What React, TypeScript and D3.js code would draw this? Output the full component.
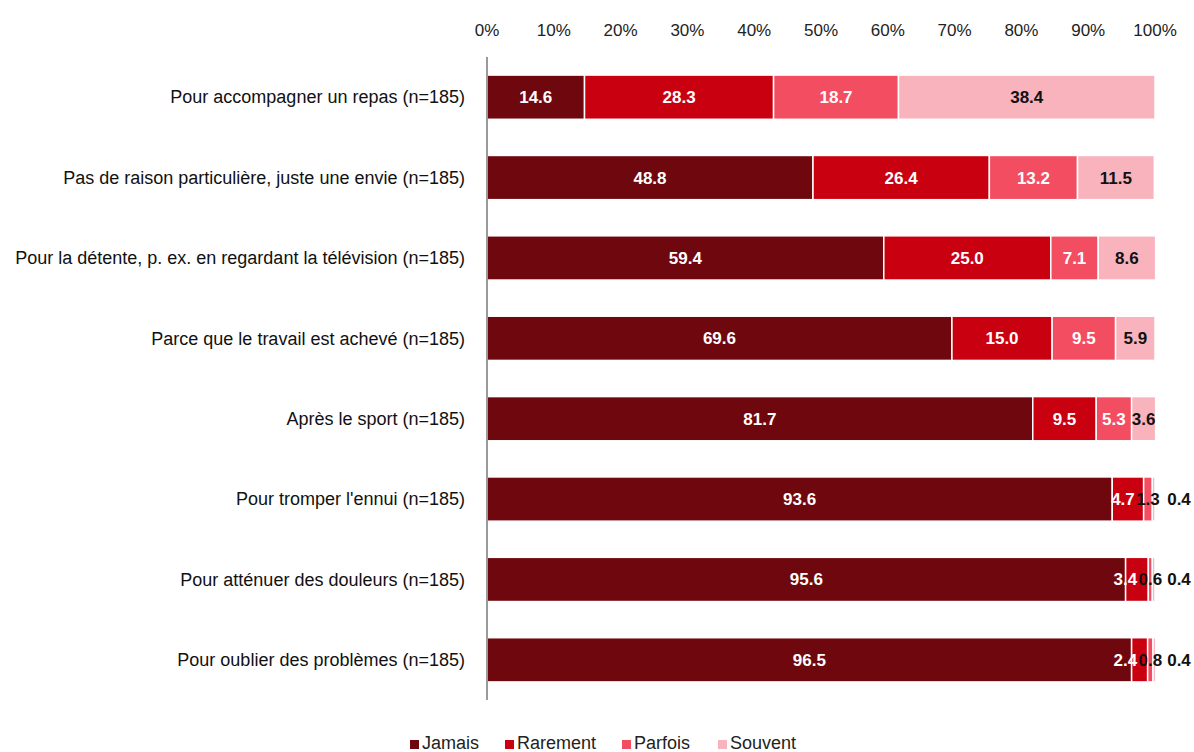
import React from "react";
import * as d3 from "d3";

const categories = [
  "Pour accompagner un repas (n=185)",
  "Pas de raison particulière, juste une envie (n=185)",
  "Pour la détente, p. ex. en regardant la télévision (n=185)",
  "Parce que le travail est achevé (n=185)",
  "Après le sport (n=185)",
  "Pour tromper l'ennui (n=185)",
  "Pour atténuer des douleurs (n=185)",
  "Pour oublier des problèmes (n=185)",
];
const seriesNames = ["Jamais", "Rarement", "Parfois", "Souvent"];
const jamais = [14.6, 48.8, 59.4, 69.6, 81.7, 93.6, 95.6, 96.5];
const rarement = [28.3, 26.4, 25.0, 15.0, 9.5, 4.7, 3.4, 2.4];
const parfois = [18.7, 13.2, 7.1, 9.5, 5.3, 1.3, 0.6, 0.8];
const souvent = [38.4, 11.5, 8.6, 5.9, 3.6, 0.4, 0.4, 0.4];
const tickValues = [0, 10, 20, 30, 40, 50, 60, 70, 80, 90, 100];
const colors = ["#6f080e", "#c9000f", "#f24d60", "#f8b3bd"];

const W = 1194;
const H = 752;
const FONT = "'Liberation Sans Narrow', 'Liberation Sans', 'DejaVu Sans', sans-serif";

export default function App() {
  const series = [jamais, rarement, parfois, souvent];
  const x = d3.scaleLinear().domain([0, 100]).range([487, 1155]);
  const y = d3.scaleBand<string>().domain(categories).range([57, 700]).paddingInner(0.45).paddingOuter(0.225);
  const rows = categories.map((c, i) => {
    let acc = 0;
    const segs = series.map((s, k) => {
      const v = s[i];
      const x0 = acc;
      acc += v;
      return { k, v, x0, x1: acc };
    });
    return { c, segs };
  });

  const labelW = 25;
  const labels = rows.map((r) => {
    const pos = r.segs.map((s) => {
      const w = x(s.x1) - x(s.x0);
      let cx = (x(s.x0) + x(s.x1)) / 2;
      if (s.k === 3 && s.v < 1) cx = x(100) + 24;
      let fill = "#fff";
      if (s.k === 3) fill = "#111";
      else if (w < 12) fill = "#111";
      return { ...s, cx, fill };
    });
    for (let j = pos.length - 2; j >= 0; j--) {
      const maxCx = pos[j + 1].cx - labelW;
      if (pos[j].cx > maxCx) pos[j].cx = maxCx;
    }
    return pos;
  });

  const bh = y.bandwidth();
  return (
    <svg
      width={W}
      height={H}
      style={{ position: "absolute", left: 0, top: 0, background: "#fff", fontStretch: "condensed" }}
      fontFamily={FONT}
    >
      {tickValues.map((t) => (
        <text key={t} x={x(t)} y={36} textAnchor="middle" fontSize={17} fill="#222">
          {t}%
        </text>
      ))}
      {rows.map((r, i) => (
        <g key={r.c}>
          <text x={465} y={(y(r.c) as number) + bh / 2} dy="0.35em" textAnchor="end" fontSize={18} fill="#111">
            {r.c}
          </text>
          {r.segs.map((s) => (
            <rect
              key={s.k}
              x={x(s.x0)}
              y={y(r.c)}
              width={Math.max(0, x(s.x1) - x(s.x0))}
              height={bh}
              fill={colors[s.k]}
              stroke="#fff"
              strokeWidth={1.5}
            />
          ))}
          {labels[i].map((l) => (
            <text
              key={"l" + l.k}
              x={l.cx}
              y={(y(r.c) as number) + bh / 2}
              dy="0.35em"
              textAnchor="middle"
              fontSize={17}
              fontWeight="bold"
              fill={l.fill}
            >
              {l.v.toFixed(1)}
            </text>
          ))}
        </g>
      ))}
      <line x1={487} x2={487} y1={57} y2={700} stroke="#9a9a9a" strokeWidth={2} />
      {seriesNames.map((n, k) => {
        const lx = [410, 505, 622, 718][k];
        return (
          <g key={n}>
            <rect x={lx} y={740} width={9} height={9} fill={colors[k]} />
            <text x={lx + 12} y={749} fontSize={18} fill="#222">
              {n}
            </text>
          </g>
        );
      })}
    </svg>
  );
}
